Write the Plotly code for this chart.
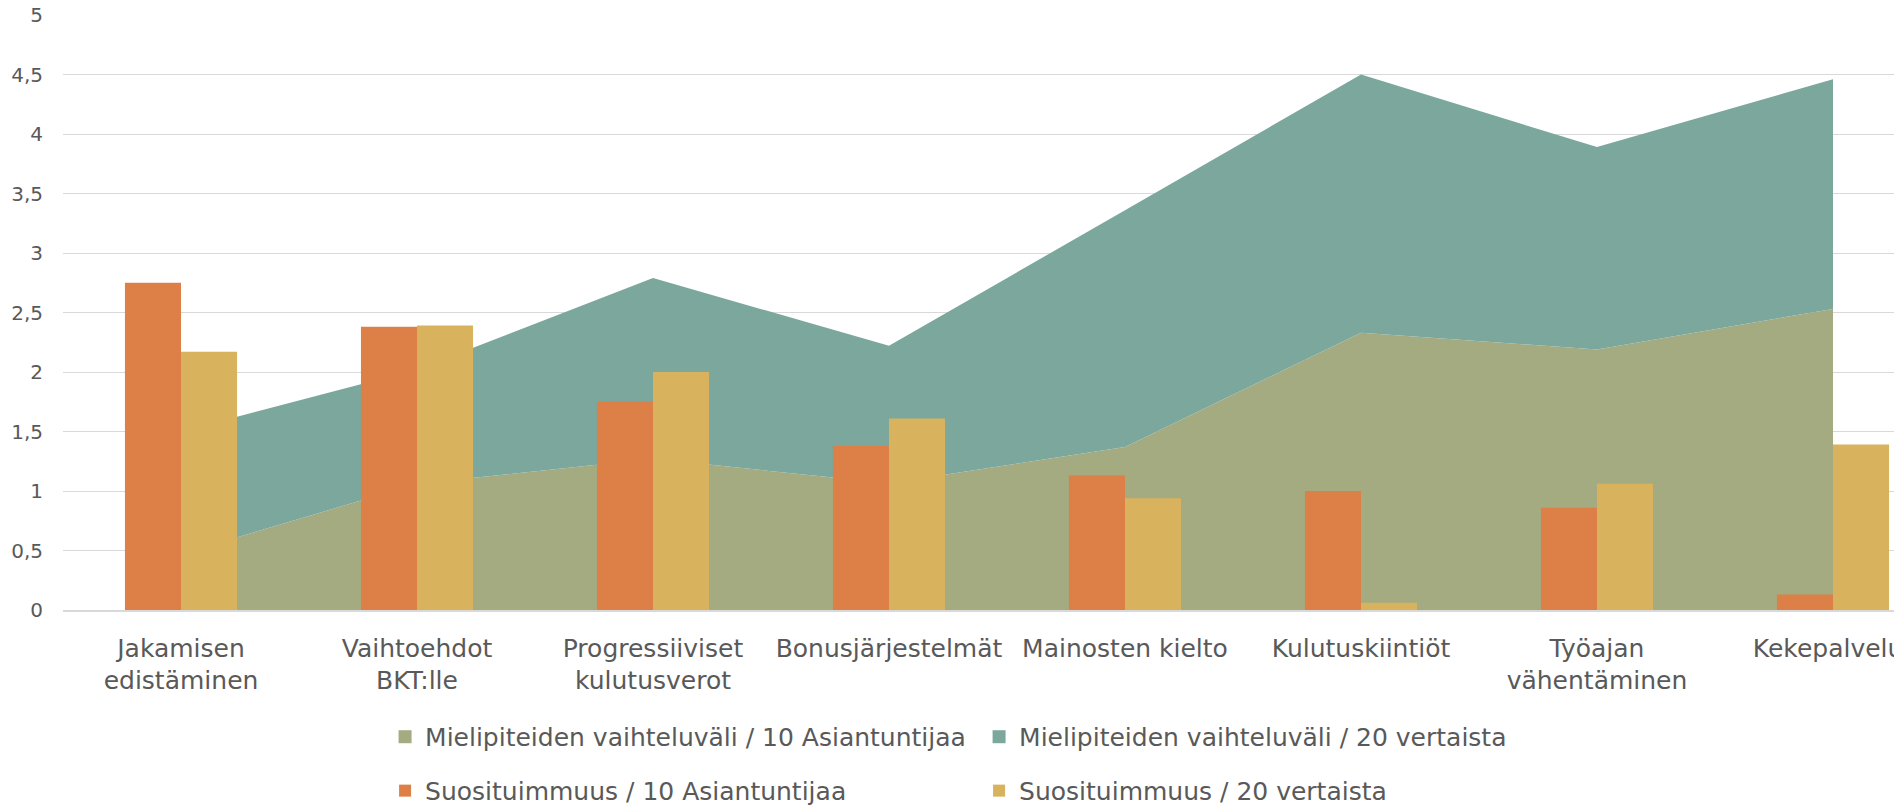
import plotly.graph_objects as go

categories = ["Jakamisen edistäminen", "Vaihtoehdot BKT:lle", "Progressiiviset kulutusverot",
              "Bonusjärjestelmät", "Mainosten kielto", "Kulutuskiintiöt",
              "Työajan vähentäminen", "Kekepalvelut"]
tick_labels = ["Jakamisen<br>edistäminen", "Vaihtoehdot<br>BKT:lle", "Progressiiviset<br>kulutusverot",
               "Bonusjärjestelmät", "Mainosten kielto", "Kulutuskiintiöt",
               "Työajan<br>vähentäminen", "Kekepalvelut"]

# stacked area series
range_experts = [0.47, 1.06, 1.27, 1.065, 1.37, 2.33, 2.19, 2.53]
range_peers = [1.03, 0.96, 1.52, 1.155, 1.99, 2.17, 1.70, 1.93]
# bars
pop_experts = [2.75, 2.38, 1.75, 1.38, 1.13, 1.00, 0.86, 0.13]
pop_peers = [2.17, 2.39, 2.00, 1.61, 0.94, 0.06, 1.06, 1.39]

names = ["Mielipiteiden vaihteluväli / 10 Asiantuntijaa",
         "Mielipiteiden vaihteluväli / 20 vertaista",
         "Suosituimmuus / 10 Asiantuntijaa",
         "Suosituimmuus / 20 vertaista"]
colors = ["#A4AB81", "#7BA79D", "#DD8047", "#D8B25C"]

FONT = "DejaVu Sans"
TXT = "#595959"

fig = go.Figure()
fig.add_trace(go.Scatter(x=categories, y=range_experts, name=names[0], stackgroup="one",
                         mode="none", fillcolor=colors[0], showlegend=False,
                         xaxis="x", yaxis="y"))
fig.add_trace(go.Scatter(x=categories, y=range_peers, name=names[1], stackgroup="one",
                         mode="none", fillcolor=colors[1], showlegend=False,
                         xaxis="x", yaxis="y"))
# legend entries for the areas (square swatches)
for i in range(2):
    fig.add_trace(go.Scatter(x=[None], y=[None], name=names[i], mode="markers",
                             marker=dict(symbol="square", size=13, color=colors[i]),
                             legend="legend", xaxis="x", yaxis="y"))
fig.add_trace(go.Bar(x=categories, y=pop_experts, name=names[2], marker_color=colors[2],
                     marker_line_width=0, legend="legend2", xaxis="x2", yaxis="y2"))
fig.add_trace(go.Bar(x=categories, y=pop_peers, name=names[3], marker_color=colors[3],
                     marker_line_width=0, legend="legend2", xaxis="x2", yaxis="y2"))

xr = [-0.5, 7.2585]
fig.update_layout(
    width=1894, height=808,
    margin=dict(l=63, r=0, t=15, b=198, autoexpand=False),
    paper_bgcolor="white", plot_bgcolor="white",
    separators=", ",
    barmode="group", bargap=0.525, bargroupgap=0,
    font=dict(family=FONT, size=25, color=TXT),
    xaxis=dict(type="category", categoryarray=categories, range=xr, automargin=False,
               tickvals=categories, ticktext=tick_labels,
               showgrid=False, showline=True, linecolor="#D9D9D9", linewidth=1.5,
               ticks="", ticklabelstandoff=15,
               tickfont=dict(family=FONT, size=25, color=TXT)),
    yaxis=dict(range=[0, 5], dtick=0.5, showgrid=True, gridcolor="#D9D9D9", gridwidth=1,
               zeroline=False, showline=False, ticks="", ticklabelstandoff=19,
               automargin=False, tickfont=dict(family=FONT, size=20, color=TXT)),
    xaxis2=dict(type="category", categoryarray=categories, overlaying="x", matches="x",
                visible=False, range=xr, automargin=False),
    yaxis2=dict(overlaying="y", matches="y", visible=False, range=[0, 5], automargin=False),
    legend=dict(orientation="h", x=0.1759, xanchor="left", y=-0.2134, yanchor="middle",
                entrywidth=549, entrywidthmode="pixels", traceorder="normal",
                font=dict(family=FONT, size=25, color=TXT), bgcolor="rgba(0,0,0,0)"),
    legend2=dict(orientation="h", x=0.1759, xanchor="left", y=-0.304, yanchor="middle",
                 entrywidth=549, entrywidthmode="pixels", traceorder="normal",
                 font=dict(family=FONT, size=25, color=TXT), bgcolor="rgba(0,0,0,0)"),
)

fig.write_html("out.html", config={"displayModeBar": False},
               post_script="document.body.style.margin='0';document.body.style.overflow='hidden';")
